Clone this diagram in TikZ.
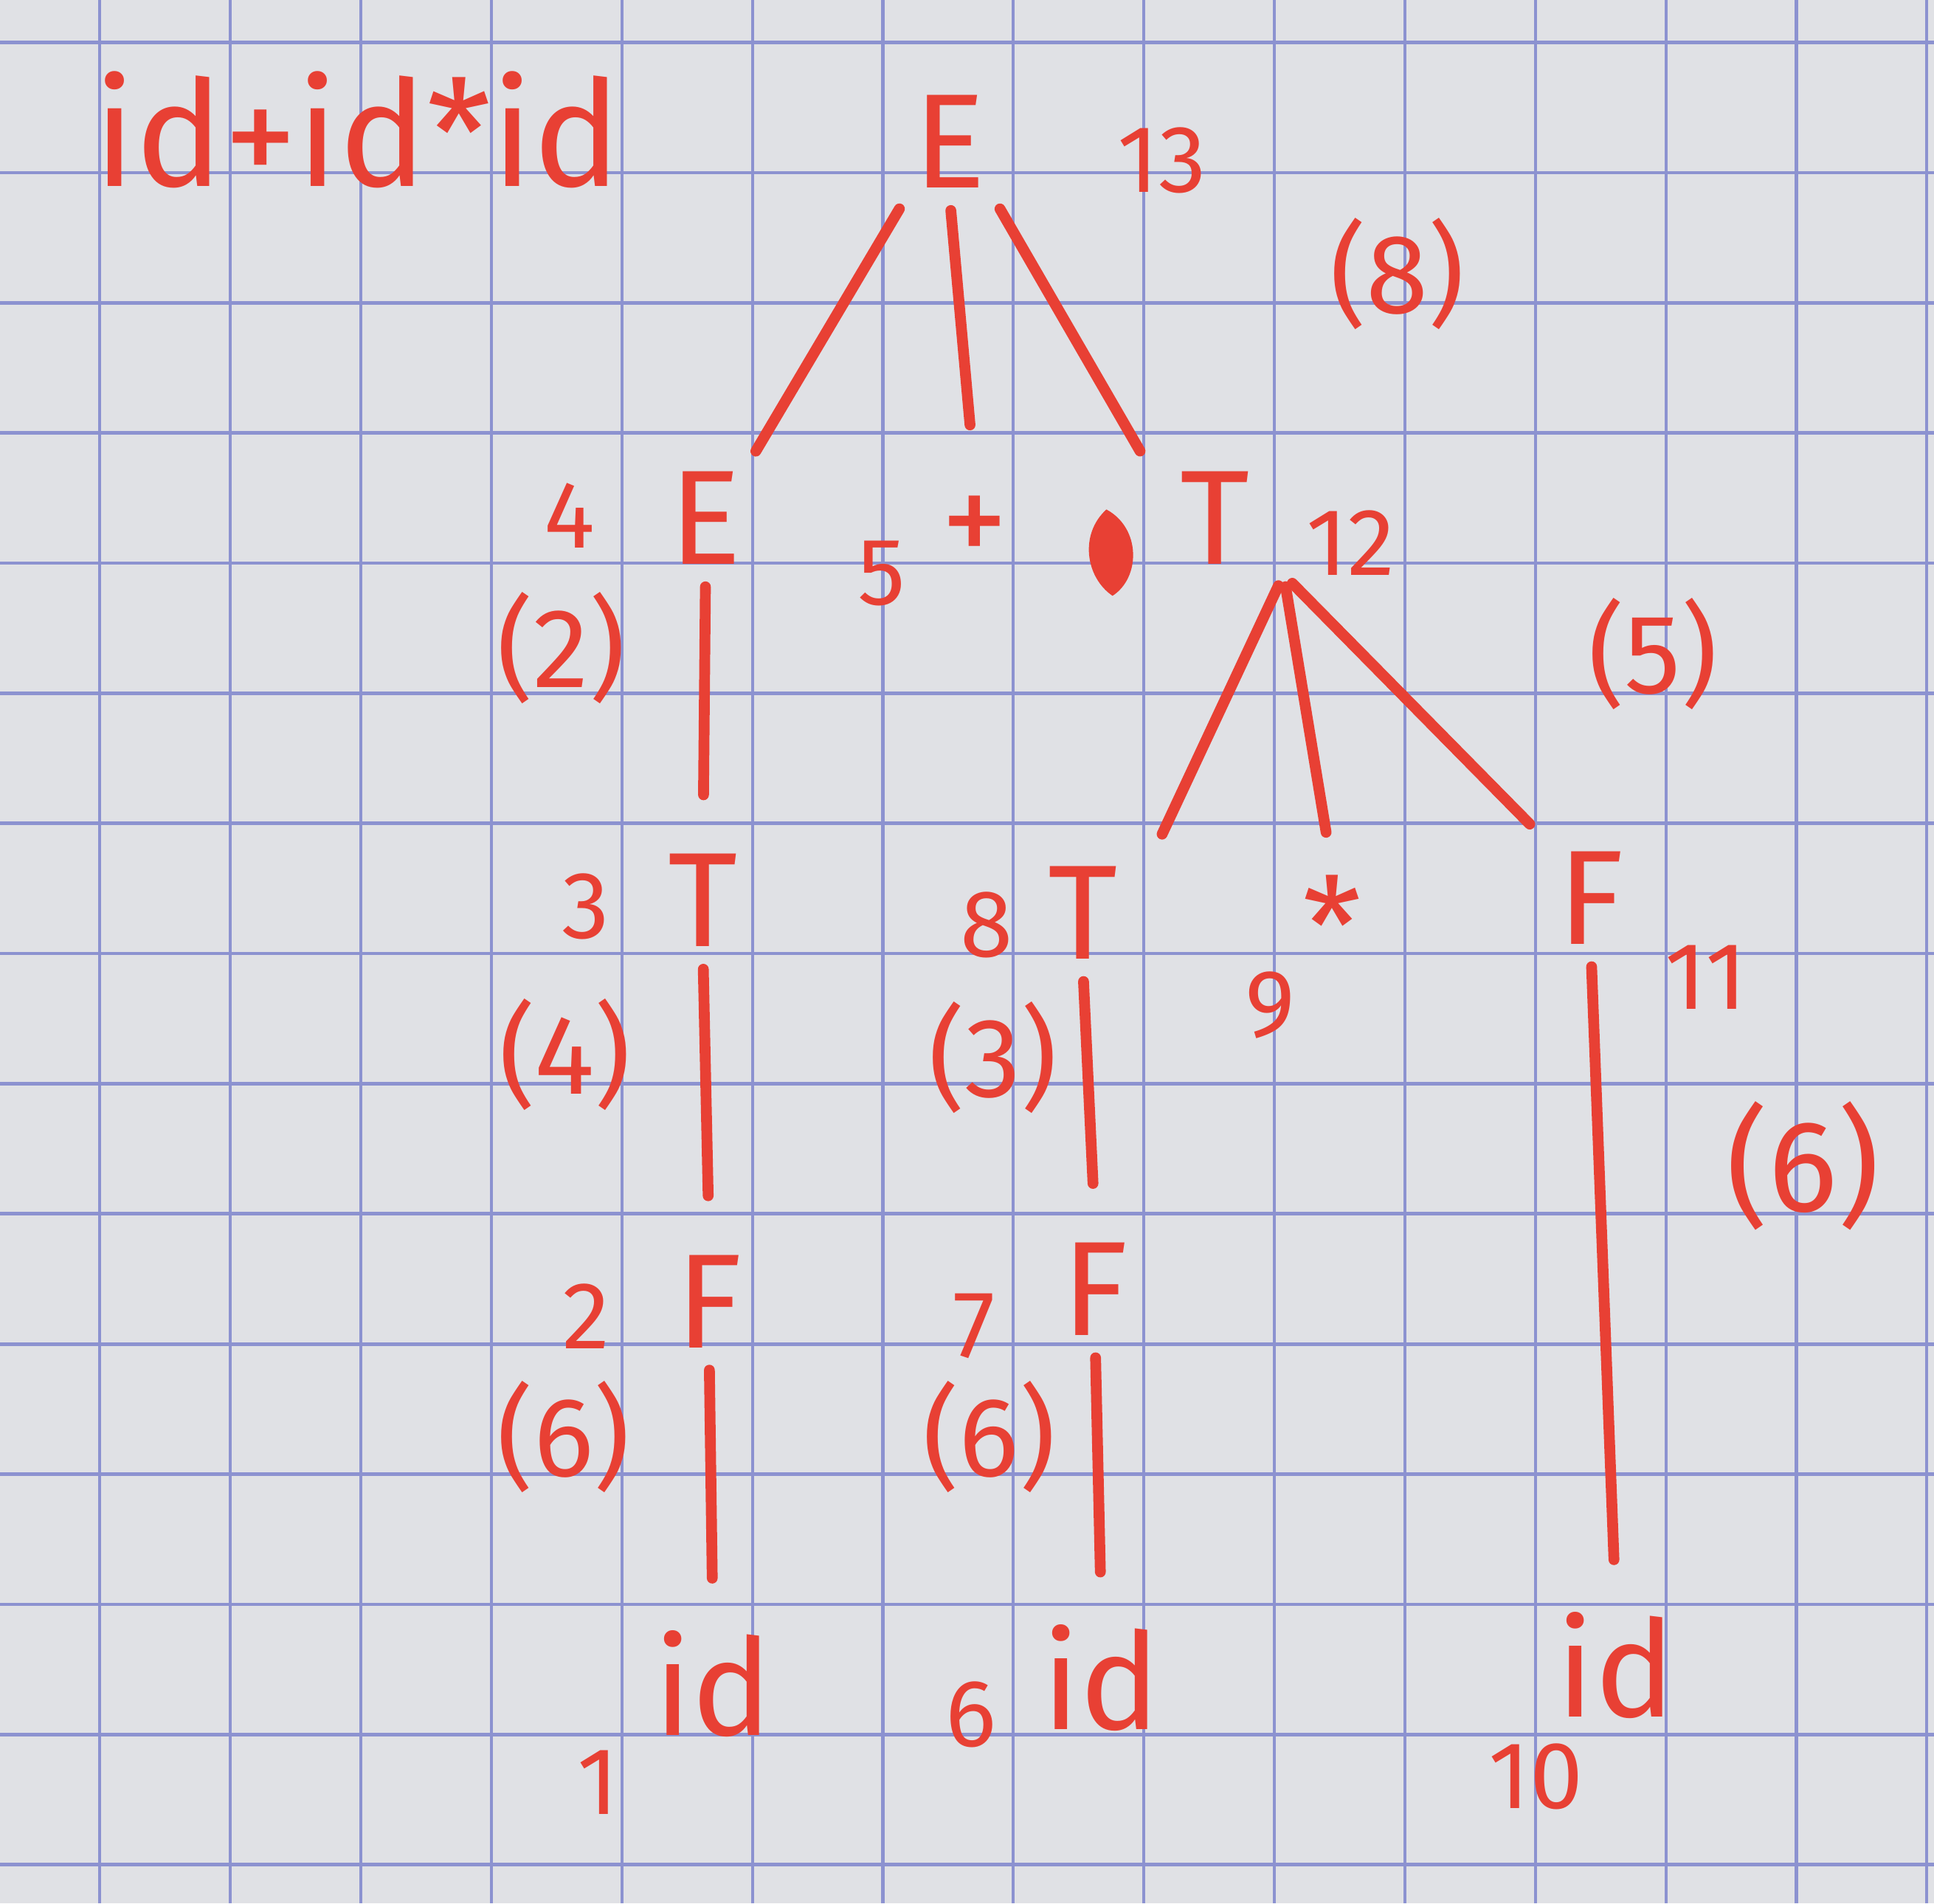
\documentclass[tikz,border=0pt]{standalone}
\usepackage{fontspec}
\setmainfont{Fira Sans}
\definecolor{ink}{RGB}{232,64,52}
\definecolor{paper}{RGB}{224,225,229}
\definecolor{gridblue}{RGB}{140,146,208}
\begin{document}
\begin{tikzpicture}[
    sym/.style={text=ink, inner sep=0pt, minimum width=0.7cm, minimum height=0.9cm, font=\fontsize{31}{31}\selectfont},
    num/.style={text=ink, inner sep=0pt, font=\fontsize{22}{22}\selectfont},
    prod/.style={text=ink, inner sep=0pt, font=\fontsize{26}{26}\selectfont},
    branch/.style={draw=ink, line width=2.5pt, line cap=round, shorten <=0.1cm, shorten >=0.4cm}]

    % --- paper and grid ---
    \fill[paper] (0,0) rectangle (15.68,15.43);
    \useasboundingbox (0,0) rectangle (15.68,15.43);
    \foreach \x in {0,...,14}
        \draw[gridblue, line width=0.7pt] ({0.81+1.058*\x},0) -- ({0.81+1.058*\x},15.43);
    \foreach \y in {0,...,14}
        \draw[gridblue, line width=0.8pt] (0,{15.085-1.055*\y}) -- (15.68,{15.085-1.055*\y});
    % ---

    % --- input string ---
    \node[sym, font=\fontsize{34}{34}\selectfont] (input) at (2.90,14.38) {id+id*id};
    % ---

    % --- tree symbols ---
    \node[sym] (root) at (7.70,14.28) {E};
    \node[sym] (e4) at (5.72,11.23) {E};
    \node[sym] (plus) at (7.90,11.13) {+};
    \node[sym, minimum width=1.1cm] (t12) at (9.85,11.23) {T};
    \node[sym] (t3) at (5.70,8.13) {T};
    \node[sym] (t8) at (8.78,8.03) {T};
    \node[sym] (star) at (10.80,7.93) {*};
    \node[sym] (f11) at (12.90,8.15) {F};
    \node[sym] (f2) at (5.75,4.88) {F};
    \node[sym] (f7) at (8.88,4.98) {F};
    \node[sym] (id1) at (5.78,1.78) {id};
    \node[sym] (id6) at (8.93,1.83) {id};
    \node[sym] (id10) at (13.10,1.93) {id};
    % ink blot next to T
    \fill[ink] (8.97,11.30) .. controls (9.25,11.15) and (9.25,10.75) .. (9.02,10.60) .. controls (8.80,10.75) and (8.75,11.10) .. cycle;
    % ---

    % --- branches ---
    \draw[branch, shorten >=0.1cm] (root.south west) -- (e4.north east);
    \draw[branch] (root.south) -- (plus.north);
    \draw[branch, shorten >=0.1cm] (root.south east) -- (t12.north west);
    \draw[branch] (e4.south) -- (t3.north);
    \draw[branch, shorten >=0.2cm] (t12.south east) -- ([xshift=2mm]t8.north east);
    \draw[branch, shorten >=0.3cm] (t12.south east) -- (star.north);
    \draw[branch, shorten >=0.2cm] (t12.south east) -- (f11.north west);
    \draw[branch] (t3.south) -- (f2.north);
    \draw[branch] (t8.south) -- (f7.north);
    \draw[branch] (f11.south) -- (id10.north);
    \draw[branch] (f2.south) -- (id1.north);
    \draw[branch] (f7.south) -- (id6.north);
    % ---

    % --- order numbers ---
    \node[num] (n13) at (9.42,14.13) {13};
    \node[num] (n4) at (4.62,11.25) {4};
    \node[num] (n5) at (7.15,10.78) {5};
    \node[num] (n12) at (10.95,11.03) {12};
    \node[num] (n3) at (4.75,8.08) {3};
    \node[num] (n8) at (8.00,7.93) {8};
    \node[num] (n9) at (10.30,7.28) {9};
    \node[num] (n11) at (13.83,7.51) {11};
    \node[num] (n2) at (4.75,4.76) {2};
    \node[num] (n7) at (7.90,4.68) {7};
    \node[num] (n1) at (4.85,0.98) {1};
    \node[num] (n6) at (7.87,1.53) {6};
    \node[num] (n10) at (12.45,1.03) {10};
    % ---

    % --- rule numbers ---
    \node[prod] (r8) at (11.33,13.21) {(8)};
    \node[prod] (r2) at (4.55,10.18) {(2)};
    \node[prod] (r5) at (13.40,10.13) {(5)};
    \node[prod] (r4) at (4.58,6.88) {(4)};
    \node[prod] (r3) at (8.05,6.86) {(3)};
    \node[prod, font=\fontsize{30}{30}\selectfont] (r6a) at (14.62,5.98) {(6)};
    \node[prod] (r6b) at (4.57,3.78) {(6)};
    \node[prod] (r6c) at (8.02,3.78) {(6)};
    % ---
\end{tikzpicture}
\end{document}
